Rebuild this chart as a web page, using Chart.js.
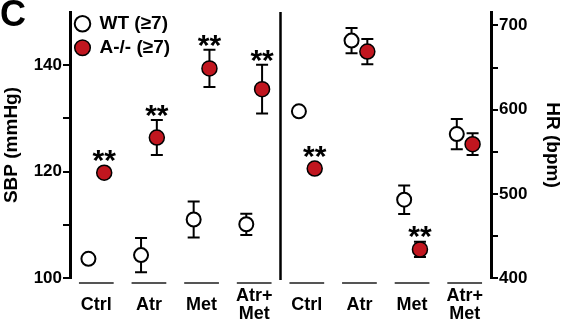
<!DOCTYPE html>
<html>
<head>
<meta charset="utf-8">
<script src="https://cdn.jsdelivr.net/npm/chart.js@4"></script>
<style>
  body { margin: 0; background: #fff; }
  canvas { display: block; }
</style>
</head>
<body>
<canvas id="myChart" width="564" height="323"></canvas>
<script>
const categories = ['Ctrl', 'Atr', 'Met', ['Atr+', 'Met'], 'Ctrl', 'Atr', 'Met', ['Atr+', 'Met']]

// SBP (mmHg), left axis, first 4 groups
const wtSbp = [103.6, 104.3, 111.0, 110.1]
const wtSbpErr = [0.5, 3.2, 3.4, 2.0]
const aSbp = [119.8, 126.4, 139.4, 135.5]
const aSbpErr = [0.5, 3.3, 3.5, 4.6]
const sbpSig = [true, true, true, true]

// HR (bpm), right axis, last 4 groups
const wtHr = [598, 682, 493, 571]
const wtHrErr = [3, 15, 17, 18]
const aHr = [530, 669, 434, 559]
const aHrErr = [3, 15, 9, 13]
const hrSig = [true, false, true, false]

const sbpTicks = [100, 110, 120, 130, 140]
const hrTicks = [400, 450, 500, 550, 600, 650, 700]

const red = '#c1161f'
const font = '"Liberation Sans", Arial, sans-serif'

const wtStyle = { pointStyle: 'circle', pointRadius: 7, backgroundColor: '#fff', borderColor: '#000', borderWidth: 2 }
const aStyle = { pointStyle: 'circle', pointRadius: 7.5, backgroundColor: red, borderColor: '#000', borderWidth: 1.5 }

const toPoints = (vals, start, shift) => vals.map((v, i) => ({ x: start + i + shift, y: v }))

const errorBars = {
  id: 'errorBars',
  beforeDatasetsDraw(chart) {
    const c = chart.ctx
    c.save()
    c.strokeStyle = '#000'
    c.lineWidth = 2
    chart.data.datasets.forEach((ds, d) => {
      const meta = chart.getDatasetMeta(d)
      const yScale = chart.scales[ds.yAxisID]
      meta.data.forEach((pt, i) => {
        const v = ds.data[i].y
        const e = ds.err[i]
        const top = yScale.getPixelForValue(v + e)
        const bot = yScale.getPixelForValue(v - e)
        c.beginPath()
        c.moveTo(pt.x, top); c.lineTo(pt.x, bot)
        c.moveTo(pt.x - 6, top); c.lineTo(pt.x + 6, top)
        c.moveTo(pt.x - 6, bot); c.lineTo(pt.x + 6, bot)
        c.stroke()
      })
    })
    c.restore()
  },
  afterDatasetsDraw(chart) {
    const c = chart.ctx
    const area = chart.chartArea
    const x = chart.scales.x
    c.save()
    // stars
    c.fillStyle = '#000'
    c.font = 'bold 30px ' + font
    c.textAlign = 'center'
    c.textBaseline = 'alphabetic'
    chart.data.datasets.forEach((ds, d) => {
      if (!ds.sig) return
      const meta = chart.getDatasetMeta(d)
      const yScale = chart.scales[ds.yAxisID]
      meta.data.forEach((pt, i) => {
        if (!ds.sig[i]) return
        const top = Math.min(yScale.getPixelForValue(ds.data[i].y + ds.err[i]), pt.y - 8)
        c.fillText('**', pt.x, top + 5)
      })
    })
    // separator between SBP and HR
    c.strokeStyle = '#000'
    c.lineWidth = 2.5
    c.beginPath()
    c.moveTo(x.getPixelForValue(3.5), area.top)
    c.lineTo(x.getPixelForValue(3.5), area.bottom + 2)
    c.stroke()
    // group underlines
    c.strokeStyle = '#555'
    c.lineWidth = 2
    categories.forEach((cat, i) => {
      c.beginPath()
      c.moveTo(x.getPixelForValue(i - 0.33), area.bottom + 5)
      c.lineTo(x.getPixelForValue(i + 0.33), area.bottom + 5)
      c.stroke()
    })
    // panel letter
    c.font = 'bold 36px ' + font
    c.textAlign = 'left'
    c.fillText('C', 0, 26)
    c.restore()
  }
}

const ctx = document.getElementById('myChart')

const grafica = new Chart(ctx, {
  type: 'scatter',
  data: {
    datasets: [
      { label: 'WT (≥7)', data: toPoints(wtSbp, 0, -0.15), err: wtSbpErr, yAxisID: 'y', ...wtStyle },
      { label: 'A-/- (≥7)', data: toPoints(aSbp, 0, 0.15), err: aSbpErr, sig: sbpSig, yAxisID: 'y', ...aStyle },
      { label: 'WT HR', data: toPoints(wtHr, 4, -0.15), err: wtHrErr, yAxisID: 'y2', ...wtStyle },
      { label: 'A-/- HR', data: toPoints(aHr, 4, 0.15), err: aHrErr, sig: hrSig, yAxisID: 'y2', ...aStyle }
    ]
  },
  options: {
    responsive: false,
    animation: false,
    events: [],
    layout: { padding: { top: 12, left: 0, right: 0, bottom: 0 } },
    plugins: {
      tooltip: { enabled: false },
      legend: {
        position: 'chartArea',
        align: 'start',
        title: { display: true, text: ' ', padding: { top: 4, bottom: 4 }, font: { size: 1 } },
        labels: {
          filter: item => item.datasetIndex < 2,
          usePointStyle: true,
          boxWidth: 15,
          boxHeight: 11,
          padding: 5,
          color: '#000',
          font: { family: font, size: 19, weight: 'bold' }
        }
      }
    },
    scales: {
      x: {
        type: 'linear',
        min: -0.5,
        max: 7.5,
        grid: { display: false },
        border: { display: false },
        afterBuildTicks: scale => { scale.ticks = categories.map((c, i) => ({ value: i })) },
        afterFit: scale => { scale.height = 45 },
        ticks: {
          callback: v => categories[v],
          autoSkip: false,
          maxRotation: 0,
          crossAlign: 'center',
          padding: 10,
          color: '#000',
          font: { family: font, size: 18, weight: 'bold', lineHeight: 1 }
        }
      },
      y: {
        position: 'left',
        min: 100,
        max: 150,
        afterBuildTicks: scale => { scale.ticks = sbpTicks.map(v => ({ value: v })) },
        afterFit: scale => { scale.width = 70 },
        grid: { drawOnChartArea: false, drawTicks: true, tickLength: 7, color: '#000', lineWidth: 2 },
        border: { color: '#000', width: 3 },
        ticks: {
          callback: v => v % 20 === 0 ? v : '',
          padding: 1,
          color: '#000',
          font: { family: font, size: 17, weight: 'bold' }
        },
        title: {
          display: true,
          text: 'SBP (mmHg)',
          color: '#000',
          padding: 0,
          font: { family: font, size: 19, weight: 'bold' }
        }
      },
      y2: {
        position: 'right',
        min: 400,
        max: 716,
        afterBuildTicks: scale => { scale.ticks = hrTicks.map(v => ({ value: v })) },
        afterFit: scale => { scale.width = 73 },
        grid: { drawOnChartArea: false, drawTicks: true, tickLength: 7, color: '#000', lineWidth: 2 },
        border: { color: '#000', width: 3 },
        ticks: {
          callback: v => v % 100 === 0 ? v : '',
          padding: 1,
          color: '#000',
          font: { family: font, size: 17, weight: 'bold' }
        },
        title: {
          display: true,
          text: 'HR (bpm)',
          color: '#000',
          padding: 0,
          font: { family: font, size: 19, weight: 'bold' }
        }
      }
    }
  },
  plugins: [errorBars]
})
</script>
</body>
</html>
